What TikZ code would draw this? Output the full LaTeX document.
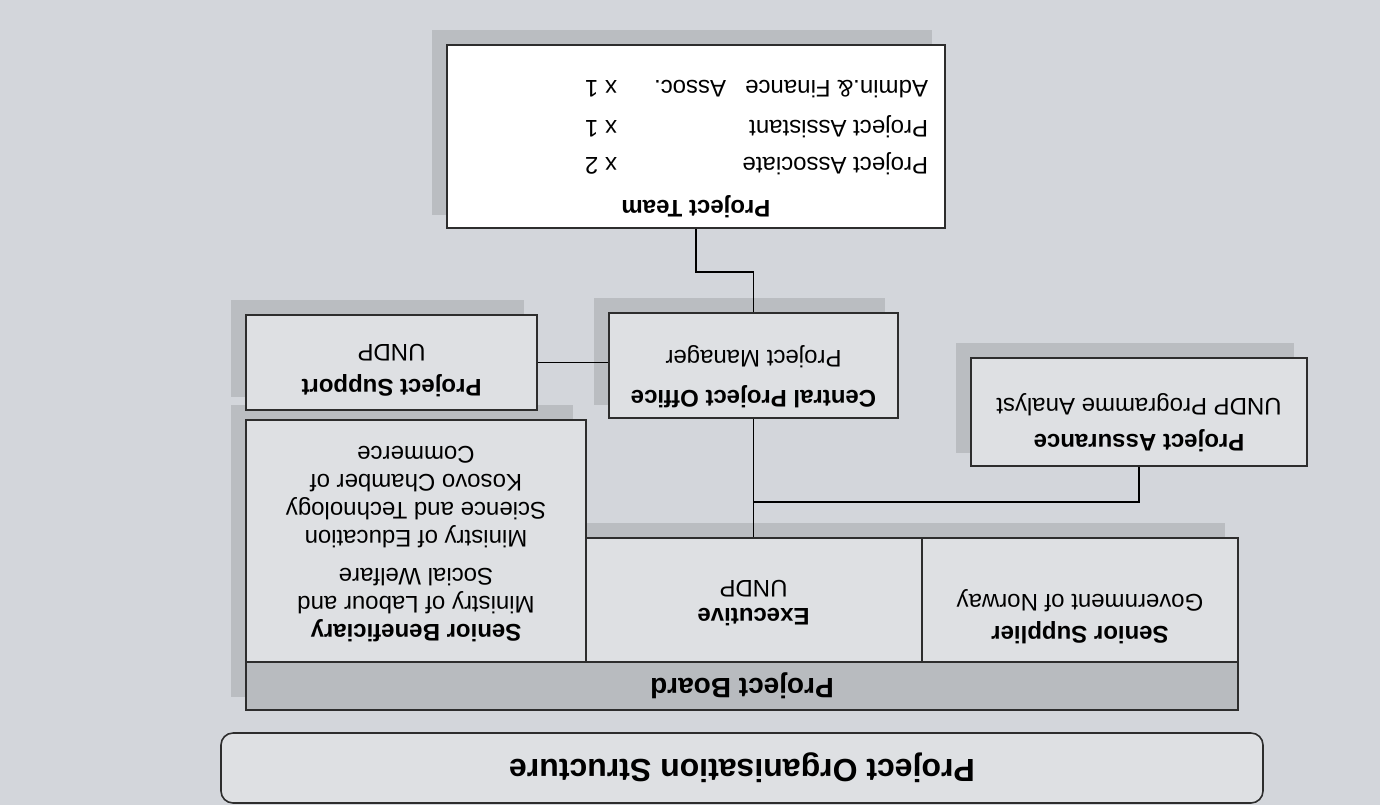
\documentclass[tikz,border=0pt]{standalone}
\usepackage{fontspec}
\setmainfont{Liberation Sans}
\usetikzlibrary{backgrounds}

\definecolor{bggray}{RGB}{211,214,219}
\definecolor{boxgray}{RGB}{222,224,227}
\definecolor{boardgray}{RGB}{184,187,191}
\definecolor{shadegray}{RGB}{186,189,193}
\definecolor{linegray}{RGB}{45,45,45}

\newcommand{\lines}[1]{\begin{tabular}[b]{@{}c@{}}#1\end{tabular}}

\begin{document}
\begin{tikzpicture}[x=0.5pt, y=-0.5pt,
  main/.style = {draw=linegray, line width=0.8pt, fill=boxgray, rotate=180, inner sep=0pt, font={\fontsize{12}{14}\selectfont}},
  link/.style = {line width=0.7pt}]
\useasboundingbox (0,0) rectangle (1380,805);

%title
\node[main, rounded corners=6pt, minimum width=521pt, minimum height=35pt, font={\fontsize{16}{19}\selectfont\bfseries}] (0) at (742,768) {Project Organisation Structure};

%board
\node[main, fill=boardgray, minimum width=496pt, minimum height=24pt, font={\fontsize{14}{16}\selectfont\bfseries}] (1) at (742,686) {Project Board};
\node[main, minimum width=158pt, minimum height=62pt, text depth=20pt] (2) at (1080,600) {\lines{\textbf{Senior Supplier}\\[2pt]Government of Norway}};
\node[main, minimum width=168pt, minimum height=62pt] (3) at (753.5,600) {\lines{\textbf{Executive}\\UNDP}};
\node[main, minimum width=170pt, minimum height=121pt] (4) at (416,541) {\lines{\textbf{Senior Beneficiary}\\Ministry of Labour and\\Social Welfare\\[5pt]Ministry of Education\\Science and Technology\\Kosovo Chamber of\\Commerce}};

%office
\node[main, minimum width=144.5pt, minimum height=52.5pt, text depth=14.7pt] (5) at (753.5,365.5) {\lines{\textbf{Central Project Office}\\[6pt]Project Manager}};
\node[main, minimum width=145.5pt, minimum height=47.5pt, text depth=9.2pt] (6) at (391.5,362.5) {\lines{\textbf{Project Support}\\[3.5pt]UNDP}};
\node[main, minimum width=168pt, minimum height=54pt, text depth=14.2pt] (7) at (1139,412) {\lines{\textbf{Project Assurance}\\[4pt]UNDP Programme Analyst}};

%team
\node[main, fill=white, minimum width=249pt, minimum height=91.5pt, text depth=14pt] (8) at (696,136.5) {\begin{tabular}[b]{@{\hspace{8.5pt}}p{155.5pt}@{}p{85pt}@{}}
\multicolumn{2}{@{}c@{}}{\textbf{Project Team}}\\[7.5pt]
Project Associate & x 2\\[4.5pt]
Project Assistant & x 1\\[6pt]
Admin.\& Finance\hspace{0.8em}Assoc. & x 1
\end{tabular}};

\coordinate (j) at (753.5,502);

\draw[link] (8.north) -- ++(0,43) -| (5.south);
\draw[link] (6.west) -- (6.west -| 5.east);
\draw[link] (5.north) -- (3.south);
\draw[link] (7.north) |- (j);

\begin{scope}[on background layer]
\fill[bggray] (0,0) rectangle (1380,805);
\foreach \n in {1,...,8}
  \fill[shadegray] ([shift={(-14,-14)}]\n.south west) rectangle ([shift={(-14,-14)}]\n.north east);
\end{scope}
\end{tikzpicture}
\end{document}
